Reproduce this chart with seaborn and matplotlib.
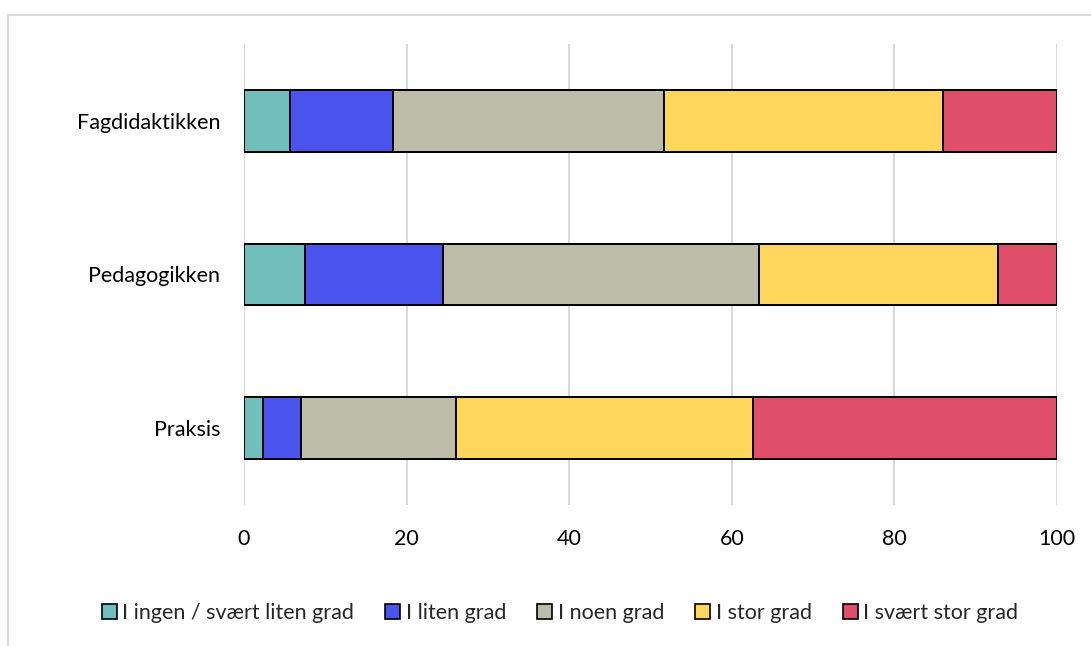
import matplotlib
matplotlib.use("Agg")
import matplotlib.pyplot as plt
import seaborn as sns
import pandas as pd
import numpy as np
from matplotlib.patches import Patch, Rectangle

categories = ["Fagdidaktikken", "Pedagogikken", "Praksis"]
series_names = ["I ingen / svært liten grad", "I liten grad", "I noen grad",
                "I stor grad", "I svært stor grad"]
ingen = [5.6, 7.5, 2.3]
liten = [12.7, 17.0, 4.7]
noen = [33.4, 38.8, 19.1]
stor = [34.3, 29.4, 36.5]
svaert_stor = [14.0, 7.3, 37.4]
x_ticks = [0, 20, 40, 60, 80, 100]

colors = ["#70BFBC", "#4A54EC", "#BDBCA8", "#FFD65C", "#DF4F69"]

sns.set_theme(style="white")
plt.rcParams['font.family'] = ['Lato', 'DejaVu Sans']

fig = plt.figure(figsize=(10.91, 6.46), dpi=100)
ax = fig.add_axes([244/1091, 1-505/646, (1057-244)/1091, (505-44)/646])

series = [ingen, liten, noen, stor, svaert_stor]
cum = np.cumsum(np.array(series), axis=0)

for i in range(len(series) - 1, -1, -1):
    df = pd.DataFrame({"cat": categories, "val": cum[i]})
    sns.barplot(data=df, x="val", y="cat", orient="h", color=colors[i],
                saturation=1, width=0.40, edgecolor="black", linewidth=1.4,
                ax=ax, zorder=3)

ax.set_xlim(0, 100)
ax.set_ylim(2.5, -0.5)
ax.set_xticks(x_ticks)
ax.set_xticklabels([str(t) for t in x_ticks])
ax.xaxis.grid(True, color="#D9D9D9", linewidth=1.5, zorder=0)
ax.yaxis.grid(False)
for s in ax.spines.values():
    s.set_visible(False)
ax.set_xlabel("")
ax.set_ylabel("")
ax.tick_params(axis="x", length=0, pad=17, labelsize=15.5, labelcolor="black")
ax.tick_params(axis="y", length=0, pad=17, labelsize=15.5, labelcolor="black")

handles = [Patch(facecolor=c, edgecolor="black", linewidth=1.2, label=n)
           for c, n in zip(colors, series_names)]
fig.legend(handles=handles, loc="center", bbox_to_anchor=(560/1091, 1-613/646),
           ncol=5, frameon=False, fontsize=15.5, handlelength=0.7, handleheight=0.7,
           handletextpad=0.25, columnspacing=1.45)

# chart frame
fig.add_artist(Rectangle((8/1091, -0.1), 1.2, 1.1 - 15/646, transform=fig.transFigure,
                         fill=False, edgecolor="#D9D9D9", linewidth=1.5))

fig.savefig("out.png", dpi=100)
